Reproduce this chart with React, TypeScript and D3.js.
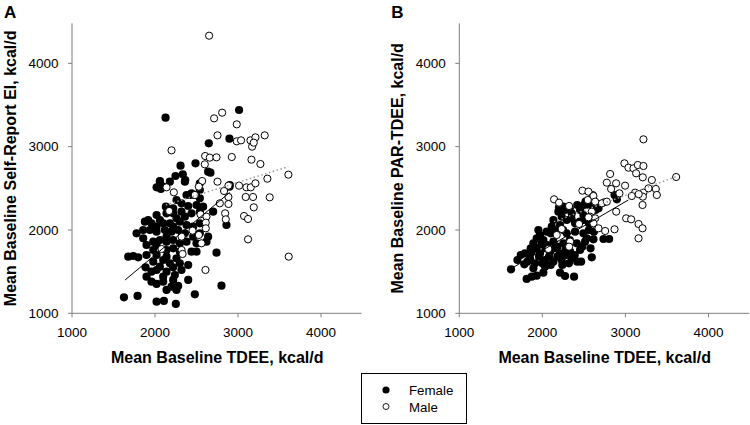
import React from "react";
import * as d3 from "d3";

// Panel A: Mean Baseline TDEE vs Self-Report EI (kcal/d)
const femaleA: [number, number][] = [
  [2127, 3348], [3013, 3440], [2897, 3096], [2648, 3040], [2308, 2772], [2488, 2800],
  [2247, 2648], [2335, 2668], [2364, 2600], [2640, 2700], [2668, 2688], [2059, 2588],
  [2071, 2492], [2432, 2420], [2488, 2420], [2897, 2520],
  [2059, 2580], [2099, 2520], [2179, 2580], [2360, 2580], [2540, 2560], [2901, 2540],
  [2019, 2512], [2440, 2440], [2500, 2420], [2540, 2480], [2380, 2420],
  [2131, 2280], [2219, 2260], [2319, 2320], [2400, 2288], [2500, 2300], [2580, 2280], [2700, 2220], [2540, 2380], [2259, 2360],
  [2019, 2180], [2139, 2200], [2219, 2200], [2319, 2220], [2440, 2200], [2540, 2220], [2360, 2160], [2259, 2140], [1918, 2120], [2059, 2120],
  [1878, 2100], [1958, 2080], [2099, 2080], [2179, 2080], [2299, 2100], [2380, 2060], [2460, 2040], [2540, 2080], [2219, 2040], [2019, 2040],
  [1778, 1960], [1858, 2000], [1938, 2000], [2019, 1980], [2119, 2000], [2199, 1980], [2279, 2000], [2360, 1960], [2460, 1920], [2540, 1960], [2640, 1920], [2139, 1920],
  [1858, 1900], [1979, 1860], [2059, 1880], [2139, 1860], [2219, 1880], [2299, 1840], [2380, 1860], [2500, 1840], [2620, 1860], [2019, 1820], [1898, 1820],
  [1678, 1680], [1738, 1688], [1798, 1672], [1898, 1700], [2019, 1700], [2139, 1760], [2219, 1780], [2299, 1740], [2440, 1740], [2500, 1740], [2741, 1728], [2139, 1680], [2259, 1660], [1979, 1760],
  [1886, 1552], [1979, 1620], [2099, 1640], [2179, 1600], [2299, 1600], [2400, 1580], [2059, 1560], [2219, 1552],
  [2019, 1520], [2139, 1500], [2239, 1460], [2319, 1520], [1958, 1500], [1898, 1440], [2099, 1440], [2400, 1400],
  [1958, 1380], [2019, 1352], [2099, 1380], [2199, 1320], [2279, 1328], [2219, 1400], [2139, 1280], [2259, 1280],
  [1626, 1192], [1790, 1208], [2019, 1140], [2107, 1148], [2251, 1112], [2480, 1228], [2801, 1332],
  [2861, 2060],
];

const maleA: [number, number][] = [
  [2652, 4332], [2712, 3340], [2809, 3408], [2985, 3268], [2753, 3136], [2985, 3064],
  [3037, 3076], [3150, 3076], [3170, 3000], [3210, 3112], [3190, 3048], [3322, 3136],
  [2199, 2956], [2604, 2888], [2660, 2868], [2741, 2872], [2925, 2876], [3162, 2844],
  [3270, 2792], [2600, 2788], [2753, 2580], [2568, 2588], [2528, 2520], [2885, 2532],
  [3013, 2532], [3101, 2512], [3154, 2512], [3210, 2560], [3354, 2616], [3607, 2664],
  [2139, 2512], [2227, 2452], [2885, 2396], [3093, 2396], [3181, 2396], [3382, 2392],
  [2781, 2320], [2885, 2312], [2845, 2200], [2853, 2128], [3190, 2272], [3073, 2168],
  [3121, 2132], [3121, 1888], [3611, 1680], [2608, 1520], [2171, 2228], [2079, 1772],
  [2320, 1760], [2332, 1712], [2452, 1992], [2320, 1920], [2548, 2188], [2620, 2160],
  [2612, 2088], [2612, 2020], [2560, 1840], [2528, 1940], [2480, 2420], [2832, 2468],
];

// Panel B: Mean Baseline TDEE vs PAR-TDEE (kcal/d)
const femaleB: [number, number][] = [
  [1623, 1528], [1783, 1588], [1811, 1412], [1872, 1440], [1932, 1452], [2012, 1488],
  [2213, 1488], [2273, 1448], [2382, 1440], [2466, 1620], [2595, 1672], [2535, 1900],
  [2615, 1888], [2736, 1892], [2804, 1892], [2869, 2420], [2897, 2368], [2676, 2260],
  [2595, 2288], [2640, 2240], [2560, 2300], [2520, 2340],
  [2193, 2220], [2273, 2240], [2354, 2200], [2454, 2240], [2494, 2180], [2233, 2160], [2250, 2280], [2330, 2260], [2420, 2300], [2500, 2300], [2200, 2270],
  [2133, 2120], [2293, 2120], [2394, 2080], [2494, 2120], [2213, 2060], [2113, 2040], [2350, 2140], [2450, 2100], [2560, 2080], [2600, 2120],
  [1952, 2000], [2052, 1980], [2153, 2000], [2293, 1960], [2394, 1980], [2494, 1960], [1972, 1940], [2250, 2000], [2560, 2000], [2620, 1980], [2100, 1960],
  [1892, 1840], [2012, 1880], [2133, 1860], [2253, 1840], [2414, 1840], [2514, 1860], [1932, 1900], [2060, 1820], [2180, 1800], [2330, 1880], [2480, 1800], [2580, 1780],
  [1791, 1720], [1872, 1740], [1972, 1720], [2093, 1740], [2213, 1720], [2334, 1740], [2454, 1760], [2040, 1780], [2280, 1780], [1930, 1780], [2150, 1780],
  [1852, 1660], [1912, 1600], [2032, 1640], [2133, 1620], [2233, 1640], [2354, 1660], [2032, 1560], [1892, 1540], [2080, 1680], [2180, 1680], [2290, 1700], [1960, 1680], [2000, 1600], [2100, 1580], [2240, 1580], [2320, 1600],
  [1740, 1700], [1700, 1640], [1820, 1620], [1860, 1780], [1990, 1830], [2390, 1700], [2420, 1620],
];

const maleB: [number, number][] = [
  [3217, 3088], [2988, 2800], [3037, 2748], [3097, 2740], [3149, 2780], [3217, 2768],
  [3129, 2680], [2816, 2672], [3209, 2632], [3318, 2600], [3611, 2636], [2776, 2568],
  [2888, 2560], [2996, 2532], [2482, 2472], [2607, 2420], [2141, 2368], [3117, 2448],
  [3217, 2448], [3278, 2500], [3366, 2492], [3378, 2420], [2828, 2492], [2928, 2440],
  [3210, 2400], [3206, 2300], [3077, 2408], [2744, 2332], [2889, 2220], [2555, 2460],
  [2615, 2408], [2716, 2320], [2636, 2340], [2547, 2360], [2595, 2220], [2575, 2160],
  [2636, 2140], [2615, 2080], [2676, 2020], [2756, 1988], [2869, 2008], [3009, 2140],
  [3069, 2128], [3158, 2072], [3206, 2020], [3158, 1900], [2201, 2328], [2322, 2288],
  [2555, 2152], [2442, 2072], [2233, 2012], [2173, 1940], [2334, 1860], [2322, 1800],
  [2072, 1772], [2776, 2340], [3160, 2430],
];

// Regression line end points [x1, y1, x2, y2]
const fitFemaleA = [1640, 1400, 2900, 2450];
const fitMaleA = [2130, 2300, 3605, 2760];
const fitFemaleB = [1630, 1540, 3035, 2360];
const fitMaleB = [2140, 2100, 3610, 2640];

const ticks = [1000, 2000, 3000, 4000];
const xTitle = "Mean Baseline TDEE, kcal/d";
const yTitleA = "Mean Baseline Self-Report EI, kcal/d";
const yTitleB = "Mean Baseline PAR-TDEE, kcal/d";
const legendLabels = ["Female", "Male"];

const FONT = "Liberation Sans, Arial, sans-serif";
const AXIS = "#7f7f7f";

type PanelProps = {
  x0: number;
  x1: number;
  letter: string;
  yTitle: string;
  female: [number, number][];
  male: [number, number][];
  fitF: number[];
  fitM: number[];
};

function Panel({ x0, x1, letter, yTitle, female, male, fitF, fitM }: PanelProps) {
  const x = d3.scaleLinear().domain([1000, 4500]).range([x0, x1]);
  const y = d3.scaleLinear().domain([1000, 4500]).range([313.3, 21.7]);
  const bottom = y(1000);
  return (
    <g>
      <text x={x0 - 68} y={18} fontFamily={FONT} fontWeight="bold" fontSize={17}>
        {letter}
      </text>
      {/* axes */}
      <line x1={x0} x2={x0} y1={bottom} y2={y(4480)} stroke={AXIS} strokeWidth={1} />
      <line x1={x0} x2={x(4490)} y1={bottom} y2={bottom} stroke={AXIS} strokeWidth={1} />
      {ticks.map((t) => (
        <g key={"y" + t}>
          <line x1={x0 - 4} x2={x0} y1={y(t)} y2={y(t)} stroke={AXIS} />
          <text x={x0 - 13.5} y={y(t)} dy="0.35em" textAnchor="end" fontFamily={FONT} fontSize={13.5}>
            {t}
          </text>
        </g>
      ))}
      {ticks.map((t) => (
        <g key={"x" + t}>
          <line x1={x(t)} x2={x(t)} y1={bottom} y2={bottom + 4} stroke={AXIS} />
          <text x={x(t)} y={bottom + 23.3} textAnchor="middle" fontFamily={FONT} fontSize={13.5}>
            {t}
          </text>
        </g>
      ))}
      <text
        x={(x0 + x1) / 2}
        y={363}
        textAnchor="middle"
        fontFamily={FONT}
        fontWeight="bold"
        fontSize={16}
      >
        {xTitle}
      </text>
      <text
        transform={`translate(${x0 - 56},${y(2740)}) rotate(-90)`}
        textAnchor="middle"
        fontFamily={FONT}
        fontWeight="bold"
        fontSize={16}
      >
        {yTitle}
      </text>
      {/* points */}
      {female.map((d, i) => (
        <circle key={"f" + i} cx={x(d[0])} cy={y(d[1])} r={4.1} fill="#000" />
      ))}
      {male.map((d, i) => (
        <circle key={"m" + i} cx={x(d[0])} cy={y(d[1])} r={3.6} fill="#fff" stroke="#000" strokeWidth={1} />
      ))}
      {/* fits */}
      <line x1={x(fitF[0])} y1={y(fitF[1])} x2={x(fitF[2])} y2={y(fitF[3])} stroke="#000" strokeWidth={1} />
      <line
        x1={x(fitM[0])}
        y1={y(fitM[1])}
        x2={x(fitM[2])}
        y2={y(fitM[3])}
        stroke="#999"
        strokeWidth={1.5}
        strokeDasharray="1.5,2.5"
      />
    </g>
  );
}

export default function App() {
  return (
    <svg
      width={750}
      height={425}
      style={{ position: "absolute", left: 0, top: 0, background: "#fff" }}
    >
      <rect width={750} height={425} fill="#fff" />
      <Panel x0={72} x1={362.5} letter="A" yTitle={yTitleA} female={femaleA} male={maleA} fitF={fitFemaleA} fitM={fitMaleA} />
      <Panel x0={459.3} x1={750} letter="B" yTitle={yTitleB} female={femaleB} male={maleB} fitF={fitFemaleB} fitM={fitMaleB} />
      <g>
        <rect x={361.5} y={373.5} width={105} height={50} fill="#fff" stroke="#000" strokeWidth={1} />
        <circle cx={386} cy={390} r={3.6} fill="#000" />
        <circle cx={386} cy={406.5} r={3} fill="#fff" stroke="#000" strokeWidth={0.9} />
        <text x={409} y={394.5} fontFamily={FONT} fontSize={13.3}>
          {legendLabels[0]}
        </text>
        <text x={409} y={411.5} fontFamily={FONT} fontSize={13.3}>
          {legendLabels[1]}
        </text>
      </g>
    </svg>
  );
}
